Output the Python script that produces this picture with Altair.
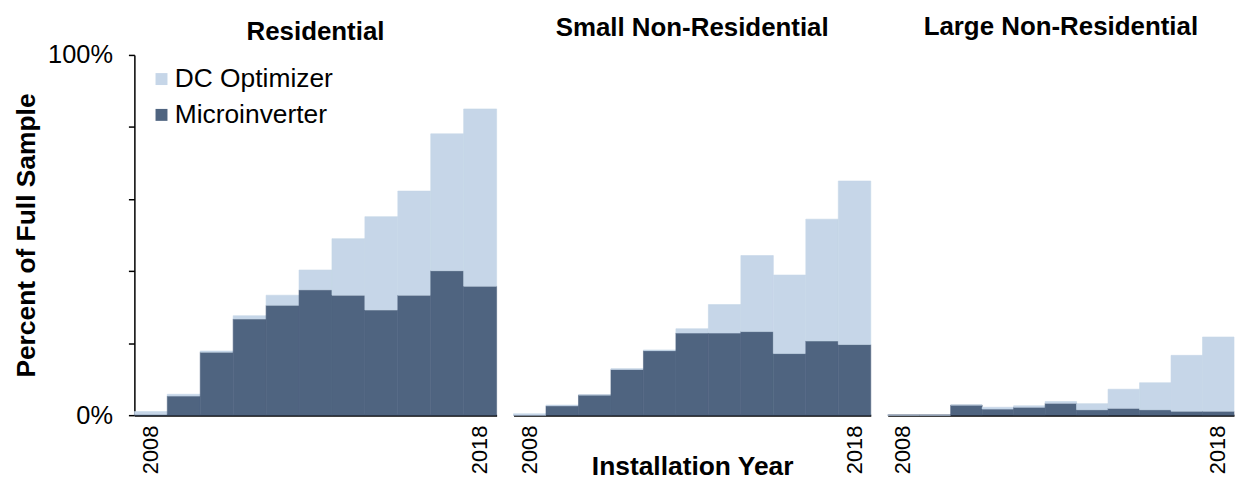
import altair as alt
import pandas as pd

years = list(range(2008, 2019))

res_micro = [0.2, 5.3, 17.5, 26.7, 30.5, 34.8, 33.3, 29.2, 33.3, 40.1, 35.8]
res_dc = [0.8, 0.5, 0.3, 0.9, 2.8, 5.5, 15.7, 25.9, 28.9, 38.0, 49.2]

small_micro = [0.0, 2.6, 5.6, 12.7, 17.9, 22.8, 22.8, 23.2, 17.1, 20.6, 19.6]
small_dc = [0.4, 0.2, 0.0, 0.2, 0.2, 1.2, 7.9, 21.1, 21.8, 33.8, 45.4]

large_micro = [0.0, 0.0, 2.8, 1.7, 2.2, 3.3, 1.5, 1.9, 1.5, 1.1, 1.1]
large_dc = [0.0, 0.0, 0.0, 0.5, 0.4, 0.5, 1.7, 5.3, 7.5, 15.5, 20.6]

segments = ["Residential", "Small Non-Residential", "Large Non-Residential"]
techs = ["DC Optimizer", "Microinverter"]

FONT = "Liberation Sans"
LIGHT = "#c6d6e8"
DARK = "#4f6480"


def make_df(micro, dc):
    rows = []
    for y, m, d in zip(years, micro, dc):
        rows.append({"year": y, "tech": techs[1], "value": m, "ord": 0})
        rows.append({"year": y, "tech": techs[0], "value": d, "ord": 1})
    return pd.DataFrame(rows)


color_scale = alt.Scale(domain=techs, range=[LIGHT, DARK])


def panel(df, title, w, first=False, xtitle=None, toffset=12):
    x_axis_kwargs = dict(
        labelExpr="(datum.value == 2008 || datum.value == 2018) ? datum.label : ''",
        labelAngle=-90,
        labelFontSize=22,
        labelFont=FONT,
        labelColor="black",
        labelPadding=10,
        ticks=False,
        domainColor="black",
        domainWidth=2,
        grid=False,
    )
    if xtitle:
        x_axis_kwargs.update(
            title=xtitle,
            titleFontSize=26.5,
            titleFont=FONT,
            titleFontWeight="bold",
            titleColor="black",
            titleY=60,
            titleBaseline="alphabetic",
        )
    else:
        x_axis_kwargs.update(title=None)

    x = alt.X(
        "year:O",
        scale=alt.Scale(paddingInner=0, paddingOuter=0),
        axis=alt.Axis(**x_axis_kwargs),
    )
    yscale = alt.Scale(domain=[0, 100], nice=False)
    if first:
        y = alt.Y(
            "value:Q",
            stack="zero",
            scale=yscale,
            axis=alt.Axis(
                values=[0, 20, 40, 60, 80, 100],
                labelExpr="datum.value == 0 ? '0%' : (datum.value == 100 ? '100%' : '')",
                grid=False,
                tickSize=6,
                tickColor="black",
                tickWidth=1.5,
                domainColor="black",
                domainWidth=1.5,
                labelFontSize=25.5,
                labelFont=FONT,
                labelColor="black",
                labelPadding=16,
                title="Percent of Full Sample",
                titleFontSize=26.5,
                titleFont=FONT,
                titleFontWeight="bold",
                titleColor="black",
                titlePadding=7,
            ),
        )
        color = alt.Color(
            "tech:N",
            scale=color_scale,
            legend=alt.Legend(
                orient="none",
                legendX=14,
                legendY=11,
                title=None,
                symbolType="square",
                symbolSize=144,
                symbolStrokeWidth=0,
                labelFontSize=26.5,
                labelFont=FONT,
                labelColor="black",
                rowPadding=9,
                labelOffset=0,
                padding=0,
            ),
        )
    else:
        y = alt.Y("value:Q", stack="zero", scale=yscale, axis=None)
        color = alt.Color("tech:N", scale=color_scale, legend=None)

    return (
        alt.Chart(df)
        .mark_bar(strokeWidth=0.6)
        .encode(
            x=x,
            y=y,
            color=color,
            stroke=alt.Stroke("tech:N", scale=color_scale, legend=None),
            order=alt.Order("ord:Q"),
        )
        .properties(
            width=w,
            height=362,
            title=alt.TitleParams(
                title,
                font=FONT,
                fontSize=26,
                fontWeight="bold",
                color="black",
                anchor="middle",
                frame="group",
                offset=toffset,
            ),
        )
    )


c1 = panel(make_df(res_micro, res_dc), segments[0], 364, first=True, toffset=-2)
c2 = panel(make_df(small_micro, small_dc), segments[1], 359, xtitle="Installation Year", toffset=14)
c3 = panel(make_df(large_micro, large_dc), segments[2], 348, toffset=15)

chart = (
    alt.hconcat(c1, c2, c3, spacing=15)
    .resolve_legend(color="independent", stroke="independent")
    .properties(padding={"left": 5, "top": 5, "right": 0, "bottom": 0}, background="white")
    .configure_view(stroke=None)
)

chart.save("out.html", embed_options={"renderer": "svg", "actions": False})
